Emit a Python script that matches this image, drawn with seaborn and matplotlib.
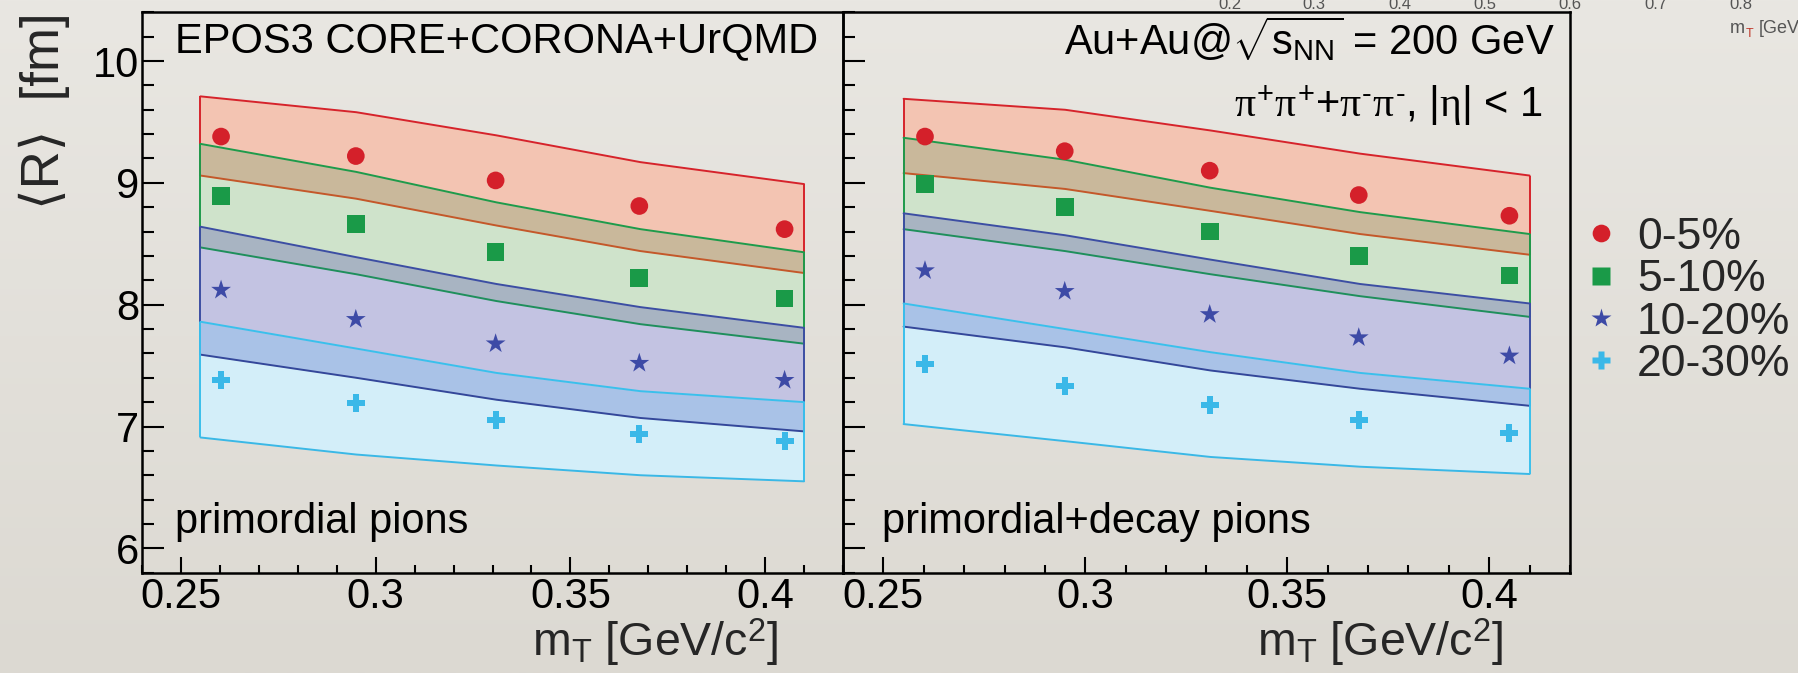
import numpy as np
import matplotlib
matplotlib.use("Agg")
import matplotlib.pyplot as plt
import seaborn as sns
from matplotlib.ticker import MultipleLocator, FuncFormatter
from matplotlib.lines import Line2D

# ---------------- data ----------------
mt_points = [0.2603, 0.2949, 0.3308, 0.3677, 0.405]
mt_band = [0.255, 0.295, 0.331, 0.368, 0.41]
centralities = ["0-5%", "5-10%", "10-20%", "20-30%"]

# left panel: primordial pions
red_hi_L = [9.71, 9.58, 9.39, 9.17, 8.99]
red_lo_L = [9.06, 8.87, 8.65, 8.44, 8.26]
green_hi_L = [9.32, 9.09, 8.84, 8.62, 8.43]
green_lo_L = [8.47, 8.25, 8.03, 7.84, 7.68]
blue_hi_L = [8.64, 8.39, 8.17, 7.98, 7.81]
blue_lo_L = [7.59, 7.40, 7.22, 7.07, 6.96]
cyan_hi_L = [7.86, 7.64, 7.44, 7.29, 7.20]
cyan_lo_L = [6.91, 6.77, 6.68, 6.60, 6.55]
red_pts_L = [9.38, 9.22, 9.02, 8.81, 8.62]
green_pts_L = [8.89, 8.66, 8.43, 8.22, 8.05]
blue_pts_L = [8.12, 7.88, 7.68, 7.52, 7.38]
cyan_pts_L = [7.38, 7.19, 7.05, 6.94, 6.88]

# right panel: primordial + decay pions
red_hi_R = [9.69, 9.60, 9.43, 9.24, 9.06]
red_lo_R = [9.08, 8.95, 8.77, 8.58, 8.41]
green_hi_R = [9.37, 9.19, 8.96, 8.76, 8.58]
green_lo_R = [8.62, 8.44, 8.25, 8.07, 7.90]
blue_hi_R = [8.75, 8.57, 8.37, 8.17, 8.01]
blue_lo_R = [7.82, 7.65, 7.46, 7.31, 7.17]
cyan_hi_R = [8.01, 7.80, 7.61, 7.44, 7.31]
cyan_lo_R = [7.02, 6.88, 6.75, 6.67, 6.61]
red_pts_R = [9.38, 9.26, 9.10, 8.90, 8.73]
green_pts_R = [8.99, 8.80, 8.60, 8.40, 8.24]
blue_pts_R = [8.28, 8.11, 7.92, 7.73, 7.58]
cyan_pts_R = [7.51, 7.33, 7.18, 7.05, 6.95]

stray_ticks = ["0.2", "0.3", "0.4", "0.5", "0.6", "0.7", "0.8"]

# ---------------- style ----------------
sns.set_theme(style="ticks")
plt.rcParams["font.family"] = ["Liberation Sans", "DejaVu Sans"]
plt.rcParams["mathtext.fontset"] = "custom"
plt.rcParams["mathtext.rm"] = "Liberation Sans"
plt.rcParams["mathtext.it"] = "Liberation Serif"
plt.rcParams["mathtext.bf"] = "Liberation Sans:bold"

fill_cols = ["#f3c4b2", "#cfe3cb", "#c3c3e2", "#d3eef9"]
overlap_cols = ["#c9b89b", "#a8b4c2", "#a9c2e7"]
hi_line_cols = ["#d6232b", "#1e9b4b", "#3c4ea3", "#3ac0ec"]
lo_line_cols = ["#c4582a", "#1f8f5c", "#34479a", "#3ab8e6"]
marker_cols = ["#d4202a", "#1a9a48", "#3d4aa6", "#3ab8e8"]
markers = ["o", "s", "*", "P"]
msizes = [162, 162, 225, 169]

fig = plt.figure(figsize=(17.98, 6.73), dpi=100)

# soft slide-like background
bg = fig.add_axes([0, 0, 1, 1], zorder=-10)
grad = np.linspace(0, 1, 256)[:, None]
top = np.array([233, 231, 226]) / 255.0
bot = np.array([220, 217, 210]) / 255.0
img = top[None, None, :] * (1 - grad[:, :, None]) + bot[None, None, :] * grad[:, :, None]
bg.imshow(img, aspect="auto", extent=[0, 1, 0, 1])
bg.set_axis_off()

axL = fig.add_axes([0.07898, 0.14903, 0.38988, 0.83269])
axR = fig.add_axes([0.46885, 0.14903, 0.40434, 0.83269])


def draw_panel(ax, his, los, pts):
    x = np.array(mt_band)
    his = [np.array(h) for h in his]
    los = [np.array(l) for l in los]
    for i in range(4):
        ax.fill_between(x, los[i], his[i], color=fill_cols[i], lw=0, zorder=1)
    for i in range(3):
        lo = np.maximum(los[i], los[i + 1])
        hi = np.minimum(his[i], his[i + 1])
        ax.fill_between(x, lo, hi, where=hi > lo, color=overlap_cols[i], lw=0, zorder=2)
    for i in range(4):
        sns.lineplot(x=x, y=his[i], color=hi_line_cols[i], lw=1.4, ax=ax, zorder=3)
        sns.lineplot(x=x, y=los[i], color=lo_line_cols[i], lw=1.4, ax=ax, zorder=3)
        ax.vlines([x[0], x[-1]], [los[i][0], los[i][-1]], [his[i][0], his[i][-1]],
                  color=hi_line_cols[i], lw=1.4, zorder=3)
    for i in range(4):
        sns.scatterplot(x=mt_points, y=pts[i], marker=markers[i], s=msizes[i],
                        color=marker_cols[i], edgecolor="none", linewidth=0,
                        ax=ax, zorder=5)

    ax.set_xlim(0.24, 0.42)
    ax.set_ylim(5.8, 10.4)
    ax.set_facecolor("none")
    for s in ax.spines.values():
        s.set_linewidth(1.8)
        s.set_color("black")
        s.set_visible(True)
    ax.xaxis.set_major_locator(MultipleLocator(0.05))
    ax.xaxis.set_minor_locator(MultipleLocator(0.01))
    ax.yaxis.set_major_locator(MultipleLocator(1))
    ax.yaxis.set_minor_locator(MultipleLocator(0.2))
    ax.xaxis.set_major_formatter(FuncFormatter(lambda v, p: "%g" % round(v, 3)))
    ax.yaxis.set_major_formatter(FuncFormatter(lambda v, p: "%g" % round(v, 3)))
    ax.tick_params(axis="both", which="both", direction="in", top=False, right=False,
                   width=1.5, color="black", labelsize=30, labelcolor="black")
    ax.tick_params(axis="y", which="major", length=15.7, pad=2)
    ax.tick_params(axis="y", which="minor", length=8.6)
    ax.tick_params(axis="x", which="major", length=11.5, pad=3)
    ax.tick_params(axis="x", which="minor", length=5.5)
    ax.set_xlabel(r"m$_{\mathrm{T}}$ [GeV/c$^{2}$]", fontsize=33.5, ha="right")
    ax.set_ylabel("")
    ax.grid(False)


draw_panel(axL, [red_hi_L, green_hi_L, blue_hi_L, cyan_hi_L],
           [red_lo_L, green_lo_L, blue_lo_L, cyan_lo_L],
           [red_pts_L, green_pts_L, blue_pts_L, cyan_pts_L])
draw_panel(axR, [red_hi_R, green_hi_R, blue_hi_R, cyan_hi_R],
           [red_lo_R, green_lo_R, blue_lo_R, cyan_lo_R],
           [red_pts_R, green_pts_R, blue_pts_R, cyan_pts_R])

axR.tick_params(axis="y", labelleft=False)
axL.xaxis.set_label_coords(0.907, -0.078)
axR.xaxis.set_label_coords(0.908, -0.078)

axL.set_ylabel("⟨R⟩  [fm]", fontsize=38, loc="top")
axL.yaxis.set_label_coords(-0.103, 1.0)

axL.text(0.047, 0.949, "EPOS3 CORE+CORONA+UrQMD", transform=axL.transAxes,
         fontsize=30, ha="left", va="center", color="black")
axL.text(0.047, 0.071, "primordial pions", transform=axL.transAxes,
         fontsize=30, ha="left", va="baseline", color="black")
axR.text(0.053, 0.071, "primordial+decay pions", transform=axR.transAxes,
         fontsize=30, ha="left", va="baseline", color="black")
axR.text(0.979, 0.924, r"Au+Au@$\sqrt{\mathrm{s}_{\mathrm{NN}}}$ = 200 GeV",
         transform=axR.transAxes, fontsize=30, ha="right", va="baseline", color="black")
axR.text(0.963, 0.813, r"$\pi^{+}\pi^{+}$+$\pi^{\text{-}}\pi^{\text{-}}$, |$\eta$| < 1",
         transform=axR.transAxes, fontsize=30, ha="right", va="baseline", color="black")

# legend
handles = [Line2D([0], [0], marker=markers[i], color="none", markerfacecolor=marker_cols[i],
                  markeredgecolor="none", markersize=np.sqrt(msizes[i]), linestyle="none")
           for i in range(4)]
fig.legend(handles, centralities, loc="upper left", bbox_to_anchor=(0.8782, 1 - 217 / 673),
           frameon=False, fontsize=32, handlelength=1.0, handletextpad=0.3,
           borderpad=0, borderaxespad=0, labelspacing=0.03)

# remnant axis labels of another figure at the top-right corner
stray_x = [1230, 1314, 1400, 1485, 1570, 1656, 1741]
for xx, lab in zip(stray_x, stray_ticks):
    fig.text(xx / 1798, 1 - 9 / 673, lab, fontsize=12, color="#555555",
             ha="center", va="baseline")
fig.text(1730 / 1798, 1 - 33 / 673, "m", fontsize=13, color="#555555", va="baseline")
fig.text(1746 / 1798, 1 - 37 / 673, "T", fontsize=9, color="#c0392b", va="baseline")
fig.text(1759 / 1798, 1 - 33 / 673, "[GeV/c]", fontsize=13, color="#555555", va="baseline")

fig.savefig("out.png", dpi=100)
